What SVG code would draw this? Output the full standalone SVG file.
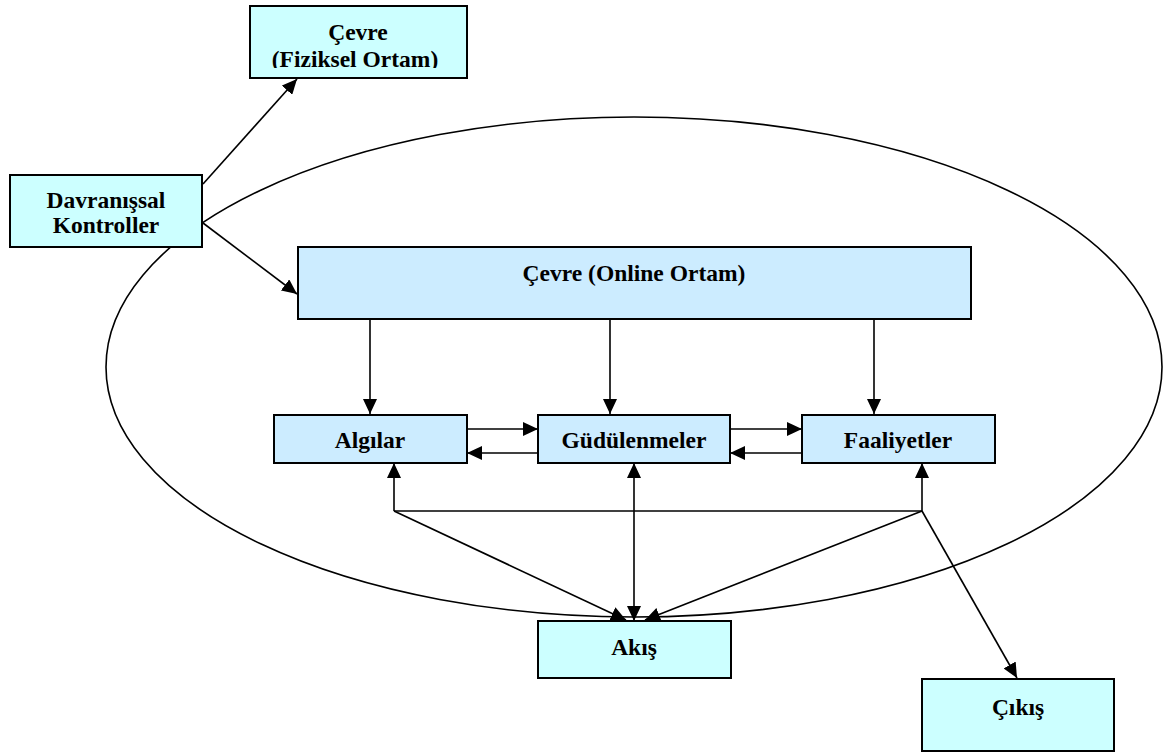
<svg xmlns="http://www.w3.org/2000/svg" width="1163" height="754" viewBox="0 0 1163 754">
  <style>
    .box { stroke: #000; stroke-width: 2; }
    .cyan { fill: #CCFFFF; }
    .blue { fill: #CCECFF; }
    .label { font-family: "Liberation Serif", "Times New Roman", serif; font-weight: bold; font-size: 23.5px; fill: #000; text-anchor: middle; }
    .link { stroke: #000; stroke-width: 1.6; fill: none; }
  </style>
  <defs>
    <marker id="arrow" markerUnits="userSpaceOnUse" markerWidth="16" markerHeight="14" refX="15" refY="7" orient="auto-start-reverse">
      <path d="M0,0 L15,7 L0,14 Z" fill="#000"/>
    </marker>
    <clipPath id="clip-fiziksel">
      <rect x="250" y="6" width="217" height="62"/>
    </clipPath>
  </defs>

  <rect width="1163" height="754" fill="#fff"/>

  <!-- system boundary -->
  <ellipse id="boundary" cx="634" cy="367" rx="528" ry="250" fill="none" stroke="#000" stroke-width="1.6"/>

  <!-- connectors -->
  <g id="connectors">
    <line class="link" x1="203" y1="184" x2="297" y2="79" marker-end="url(#arrow)"/>
    <line class="link" x1="203" y1="223" x2="297" y2="294" marker-end="url(#arrow)"/>

    <line class="link" x1="370" y1="319" x2="370" y2="414" marker-end="url(#arrow)"/>
    <line class="link" x1="610" y1="319" x2="610" y2="414" marker-end="url(#arrow)"/>
    <line class="link" x1="874" y1="319" x2="874" y2="414" marker-end="url(#arrow)"/>

    <line class="link" x1="467" y1="429" x2="538" y2="429" marker-end="url(#arrow)"/>
    <line class="link" x1="538" y1="453" x2="467" y2="453" marker-end="url(#arrow)"/>
    <line class="link" x1="730" y1="429" x2="802" y2="429" marker-end="url(#arrow)"/>
    <line class="link" x1="802" y1="453" x2="730" y2="453" marker-end="url(#arrow)"/>

    <line class="link" x1="394" y1="511" x2="922" y2="511"/>
    <line class="link" x1="394" y1="511" x2="394" y2="463" marker-end="url(#arrow)"/>
    <line class="link" x1="922" y1="511" x2="922" y2="463" marker-end="url(#arrow)"/>
    <line class="link" x1="634" y1="463" x2="634" y2="621" marker-start="url(#arrow)" marker-end="url(#arrow)"/>
    <line class="link" x1="394" y1="511" x2="626" y2="620" marker-end="url(#arrow)"/>
    <line class="link" x1="922" y1="511" x2="645" y2="620" marker-end="url(#arrow)"/>
    <line class="link" x1="922" y1="511" x2="1017" y2="678" marker-end="url(#arrow)"/>
  </g>

  <g id="node-fiziksel">
    <rect class="box cyan" x="250" y="6" width="217" height="72"/>
    <g clip-path="url(#clip-fiziksel)">
      <text class="label" x="358" y="40">Çevre</text>
      <text class="label" x="355" y="67">(Fiziksel Ortam)</text>
    </g>
  </g>

  <g id="node-davranissal">
    <rect class="box cyan" x="10" y="175" width="192" height="72"/>
    <text class="label" x="106" y="208">Davranışsal</text>
    <text class="label" x="106" y="233">Kontroller</text>
  </g>

  <g id="node-online">
    <rect class="box blue" x="298" y="247" width="673" height="72"/>
    <text class="label" x="634" y="281">Çevre (Online Ortam)</text>
  </g>

  <g id="node-algilar">
    <rect class="box blue" x="274" y="415" width="193" height="48"/>
    <text class="label" x="370" y="448">Algılar</text>
  </g>

  <g id="node-gudulenmeler">
    <rect class="box blue" x="538" y="415" width="192" height="48"/>
    <text class="label" x="634" y="448">Güdülenmeler</text>
  </g>

  <g id="node-faaliyetler">
    <rect class="box blue" x="802" y="415" width="193" height="48"/>
    <text class="label" x="898" y="448">Faaliyetler</text>
  </g>

  <g id="node-akis">
    <rect class="box cyan" x="538" y="621" width="193" height="57"/>
    <text class="label" x="634" y="655">Akış</text>
  </g>

  <g id="node-cikis">
    <rect class="box cyan" x="922" y="679" width="192" height="72"/>
    <text class="label" x="1018" y="715">Çıkış</text>
  </g>
</svg>
